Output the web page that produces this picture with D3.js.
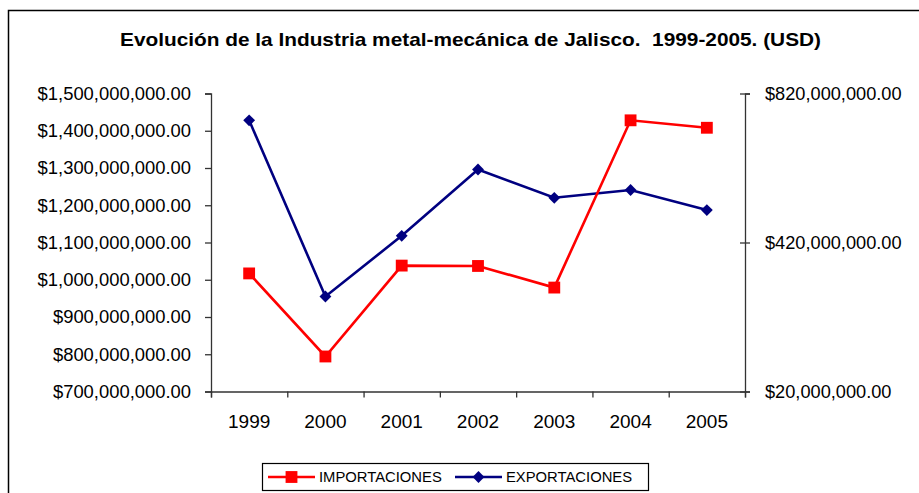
<!DOCTYPE html>
<html>
<head>
<meta charset="utf-8">
<script src="https://cdn.jsdelivr.net/npm/d3@7"></script>
<style>
  body { margin: 0; background: #fff; }
  svg { display: block; font-family: "Liberation Sans", Arial, sans-serif; }
  .axis path, .axis line { stroke: #333; stroke-width: 1.3; }
  .axis text { fill: #000; }
</style>
</head>
<body>
<div id="chart"></div>
<script>
// Data
var years = ["1999", "2000", "2001", "2002", "2003", "2004", "2005"];
var importaciones = [1017e6, 794e6, 1038e6, 1037e6, 979e6, 1428e6, 1408e6];
var exportaciones = [748e6, 275e6, 438e6, 616e6, 540e6, 561e6, 507e6];
var leftTicks = [700e6, 800e6, 900e6, 1000e6, 1100e6, 1200e6, 1300e6, 1400e6, 1500e6];
var rightTicks = [20e6, 420e6, 820e6];
var title = "Evolución de la Industria metal-mecánica de Jalisco.  1999-2005. (USD)";

var W = 919, H = 493;
var plot = { left: 211, right: 745, top: 93.5, bottom: 391.5 };

var svg = d3.select("#chart").append("svg")
    .attr("width", W)
    .attr("height", H);

// Chart border (right and bottom edges fall outside the window)
svg.append("rect")
    .attr("x", 8.5).attr("y", 10.5)
    .attr("width", 1000).attr("height", 1000)
    .attr("fill", "none")
    .attr("stroke", "#000")
    .attr("stroke-width", 1.5);

// Title
svg.append("text")
    .attr("x", 120).attr("y", 46)
    .attr("textLength", 701)
    .attr("lengthAdjust", "spacingAndGlyphs")
    .style("white-space", "pre")
    .style("font-weight", "bold")
    .style("font-size", "18.5px")
    .text(title);

// Scales
var xBand = d3.scaleBand().domain(years).range([plot.left, plot.right]).padding(0);
var xEdge = d3.scaleLinear().domain([0, years.length]).range([plot.left, plot.right]);
var yLeft = d3.scaleLinear().domain([700e6, 1500e6]).range([plot.bottom, plot.top]);
var yRight = d3.scaleLinear().domain([20e6, 820e6]).range([plot.bottom, plot.top]);

var money = function (d) { return "$" + d3.format(",.2f")(d); };

// Left axis
var gLeft = svg.append("g")
    .attr("class", "axis")
    .attr("transform", "translate(" + plot.left + ",0)")
    .call(d3.axisLeft(yLeft).tickValues(leftTicks).tickFormat(money).tickSizeOuter(0).tickSize(6).tickPadding(14));
gLeft.selectAll("text").style("font-size", "18.4px");

// Right axis (ticks cross the line)
var gRight = svg.append("g")
    .attr("class", "axis")
    .attr("transform", "translate(" + plot.right + ",0)")
    .call(d3.axisRight(yRight).tickValues(rightTicks).tickFormat(money).tickSizeOuter(0).tickSize(5).tickPadding(15));
gRight.selectAll(".tick line").attr("x1", -5);
gRight.selectAll("text").style("font-size", "18.2px");

// Bottom axis: ticks at category edges
svg.append("g")
    .attr("class", "axis")
    .attr("transform", "translate(0," + plot.bottom + ")")
    .call(d3.axisBottom(xEdge).tickValues(d3.range(years.length + 1)).tickFormat("").tickSizeOuter(0).tickSize(6));

// Year labels at category centres
var gYears = svg.append("g")
    .attr("class", "axis")
    .attr("transform", "translate(0," + plot.bottom + ")")
    .call(d3.axisBottom(xBand).tickSize(0).tickPadding(23));
gYears.select(".domain").remove();
gYears.selectAll("text").style("font-size", "19px");

// Lines
var cx = function (d, i) { return xBand(years[i]) + xBand.bandwidth() / 2; };

var impLine = d3.line().x(cx).y(function (d) { return yLeft(d); });
var expLine = d3.line().x(cx).y(function (d) { return yRight(d); });

svg.append("path")
    .datum(exportaciones)
    .attr("d", expLine)
    .attr("fill", "none")
    .attr("stroke", "#000080")
    .attr("stroke-width", 2.6);

svg.append("path")
    .datum(importaciones)
    .attr("d", impLine)
    .attr("fill", "none")
    .attr("stroke", "#ff0000")
    .attr("stroke-width", 2.6);

var square = d3.symbol().type(d3.symbolSquare).size(140);
var diamond = d3.symbol().type(d3.symbolSquare).size(70);

svg.selectAll(".exp-marker")
    .data(exportaciones)
    .enter().append("path")
    .attr("class", "exp-marker")
    .attr("d", diamond)
    .attr("transform", function (d, i) { return "translate(" + cx(d, i) + "," + yRight(d) + ") rotate(45)"; })
    .attr("fill", "#000080");

svg.selectAll(".imp-marker")
    .data(importaciones)
    .enter().append("path")
    .attr("class", "imp-marker")
    .attr("d", square)
    .attr("transform", function (d, i) { return "translate(" + cx(d, i) + "," + yLeft(d) + ")"; })
    .attr("fill", "#ff0000");

// Legend
var legend = svg.append("g").attr("transform", "translate(262,463)");
legend.append("rect")
    .attr("x", 0.5).attr("y", 0.5)
    .attr("width", 386).attr("height", 27)
    .attr("fill", "#fff")
    .attr("stroke", "#000")
    .attr("stroke-width", 1.2);

var legendItems = [
    { name: "IMPORTACIONES", color: "#ff0000", marker: square, rot: 0, x: 6 },
    { name: "EXPORTACIONES", color: "#000080", marker: diamond, rot: 45, x: 193 }
];

legendItems.forEach(function (it) {
    var g = legend.append("g").attr("transform", "translate(" + it.x + ",14)");
    g.append("line")
        .attr("x1", 0).attr("x2", 47)
        .attr("stroke", it.color)
        .attr("stroke-width", 2.6);
    g.append("path")
        .attr("d", it.marker)
        .attr("transform", "translate(23.5,0) rotate(" + it.rot + ")")
        .attr("fill", it.color);
    g.append("text")
        .attr("x", 51).attr("y", 0)
        .attr("dy", "0.36em")
        .style("font-size", "14.8px")
        .text(it.name);
});
</script>
</body>
</html>
